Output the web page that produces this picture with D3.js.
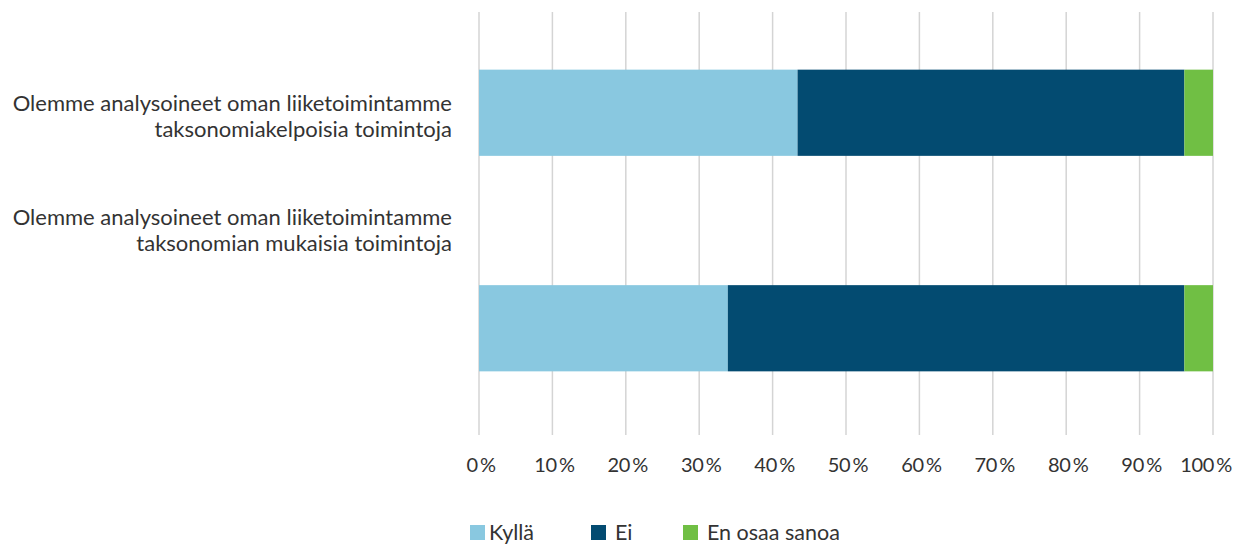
<!DOCTYPE html>
<html>
<head>
<meta charset="utf-8">
<script src="https://cdn.jsdelivr.net/npm/d3@7"></script>
<style>
  body { margin: 0; background: #fff; }
  text { font-family: Lato, "Open Sans", sans-serif; fill: #333; }
</style>
</head>
<body>
<svg id="chart" width="1234" height="544"></svg>
<script>
// data
const categories = [
  ["Olemme analysoineet oman liiketoimintamme", "taksonomiakelpoisia toimintoja"],
  ["Olemme analysoineet oman liiketoimintamme", "taksonomian mukaisia toimintoja"]
];
const seriesNames = ["Kyllä", "Ei", "En osaa sanoa"];
const kylla = [43.4, 33.9];
const ei = [52.7, 62.2];
const eos = [3.9, 3.9];
const colors = ["#89c8e0", "#034b71", "#70bf44"];

const rows = categories.map((c, i) => ({
  key: i, "Kyllä": kylla[i], "Ei": ei[i], "En osaa sanoa": eos[i]
}));

const svg = d3.select("#chart");

const x = d3.scaleLinear().domain([0, 100]).range([479, 1213]);
const y = d3.scaleBand()
  .domain(rows.map(d => d.key))
  .range([5, 436])
  .paddingInner(0.6)
  .paddingOuter(0.3);

// gridlines
svg.append("g")
  .selectAll("line")
  .data(x.ticks(10))
  .join("line")
  .attr("x1", d => x(d)).attr("x2", d => x(d))
  .attr("y1", 12).attr("y2", 435)
  .attr("stroke", "#d4d4d4")
  .attr("stroke-width", 1.5);

// stacked bars
const stack = d3.stack().keys(seriesNames)(rows);
svg.append("g")
  .selectAll("g")
  .data(stack)
  .join("g")
  .attr("fill", (d, i) => colors[i])
  .selectAll("rect")
  .data(d => d)
  .join("rect")
  .attr("x", d => x(d[0]))
  .attr("width", d => x(d[1]) - x(d[0]))
  .attr("y", d => y(d.data.key))
  .attr("height", y.bandwidth());

// x tick labels
svg.append("g")
  .selectAll("text")
  .data(x.ticks(10))
  .join("text")
  .attr("x", d => d === 100 ? 1232 : x(d) + 2)
  .attr("y", 472)
  .attr("text-anchor", d => d === 100 ? "end" : "middle")
  .attr("font-size", "20px")
  .attr("letter-spacing", "-0.3")
  .text(d => d + "\u2009%");

// category labels (second one sits above its bar, as in the original)
const labelCenter = [y(0) + y.bandwidth() / 2 + 3, 230];
const lab = svg.append("g")
  .selectAll("text")
  .data(categories)
  .join("text")
  .attr("x", 452)
  .attr("y", (d, i) => labelCenter[i] - 5)
  .attr("text-anchor", "end")
  .attr("font-size", "22px");
lab.selectAll("tspan")
  .data(d => d)
  .join("tspan")
  .attr("x", 452)
  .attr("dy", (d, i) => i === 0 ? 0 : 26)
  .text(d => d);

// legend
const legendX = [470, 591, 683];
const leg = svg.append("g")
  .selectAll("g")
  .data(seriesNames)
  .join("g")
  .attr("transform", (d, i) => `translate(${legendX[i]},525)`);
leg.append("rect")
  .attr("width", 15).attr("height", 15)
  .attr("fill", (d, i) => colors[i]);
leg.append("text")
  .attr("x", d => d === "Kyllä" ? 19 : 24)
  .attr("y", 15)
  .attr("font-size", "21.5px")
  .text(d => d);
</script>
</body>
</html>
